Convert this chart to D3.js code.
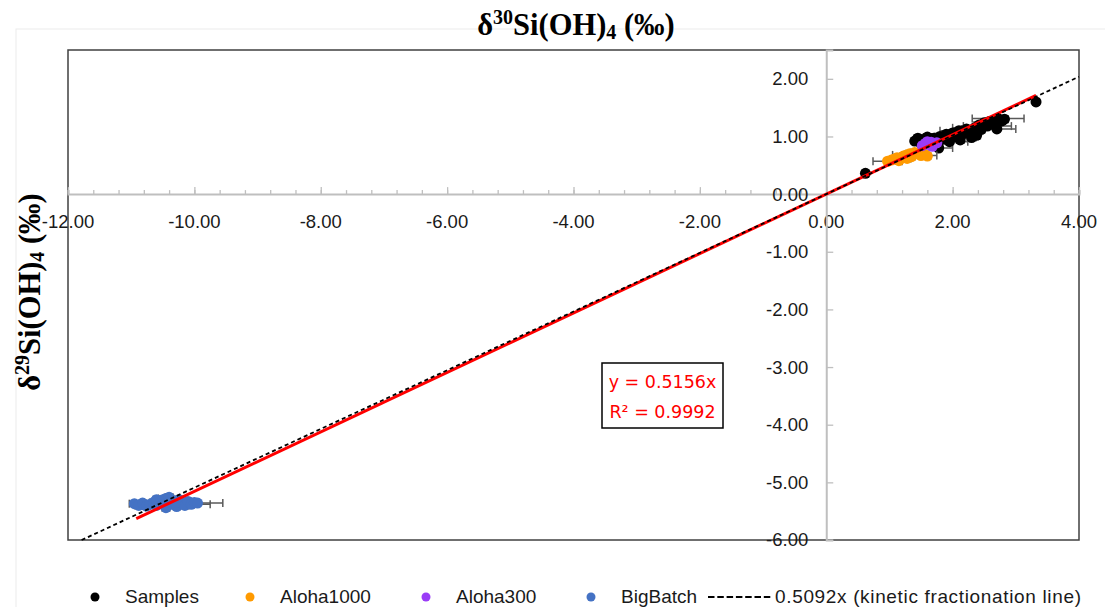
<!DOCTYPE html>
<html><head><meta charset="utf-8">
<script src="https://cdn.jsdelivr.net/npm/d3@7"></script>
<style>body{margin:0;background:#fff}svg{display:block}</style>
</head><body>
<svg id="c" width="1105" height="607"></svg>
<script>
// ---- data ----
const xTicks = [-12, -10, -8, -6, -4, -2, 0, 2, 4];
const yTicks = [2, 1, 0, -1, -2, -3, -4, -5, -6];

const samplesX = [1.40,1.45,1.50,1.55,1.60,1.65,1.70,1.72,1.78,1.80,1.85,1.90,1.95,2.00,2.05,2.10,2.12,2.18,2.22,2.28,2.30,2.35,2.38,2.42,2.45,2.50,2.55,2.58,2.62,2.66,2.70,2.72,2.78,2.82,0.62,3.32];
const samplesY = [0.92,0.97,0.88,0.95,0.99,0.93,0.97,0.86,0.80,1.00,0.95,1.04,0.91,1.06,1.00,1.10,0.94,1.05,1.13,1.08,0.98,1.15,1.02,1.20,1.12,1.24,1.18,1.26,1.22,1.28,1.13,1.31,1.27,1.30,0.36,1.60];
const samplesErr = [0.05,0.06,0.05,0.08,0.06,0.05,0.07,0.05,0.22,0.08,0.06,0.08,0.29,0.06,0.05,0.30,0.06,0.05,0.08,0.06,0.07,0.35,0.06,0.08,0.06,0.05,0.38,0.06,0.05,0.06,0.30,0.41,0.05,0.06,0.05,0.05];

const aloha1000X = [0.97,1.03,1.08,1.12,1.18,1.22,1.27,1.32,1.35,1.40,1.45,1.50,1.55,1.60,1.15,1.28];
const aloha1000Y = [0.57,0.59,0.61,0.63,0.62,0.66,0.68,0.70,0.65,0.72,0.70,0.67,0.69,0.66,0.58,0.62];
const aloha1000Err = [0.23,0.05,0.06,0.05,0.06,0.05,0.22,0.06,0.05,0.06,0.05,0.25,0.06,0.05,0.05,0.06];

const aloha300X = [1.52,1.57,1.62,1.66,1.70,1.75,1.60,1.68];
const aloha300Y = [0.84,0.88,0.86,0.90,0.87,0.89,0.91,0.83];
const aloha300Err = [0.05,0.06,0.05,0.06,0.05,0.06,0.05,0.05];

const bigBatchX = [-10.95,-10.88,-10.82,-10.76,-10.70,-10.65,-10.60,-10.55,-10.50,-10.45,-10.40,-10.36,-10.32,-10.28,-10.24,-10.20,-10.15,-10.10,-10.05,-10.00,-9.95,-10.45,-10.60,-10.30];
const bigBatchY = [-5.37,-5.40,-5.36,-5.41,-5.38,-5.35,-5.40,-5.33,-5.30,-5.28,-5.26,-5.38,-5.32,-5.42,-5.30,-5.36,-5.40,-5.33,-5.38,-5.35,-5.36,-5.44,-5.30,-5.35];
const bigBatchErr = [0.08,0.06,0.05,0.06,0.05,0.06,0.05,0.06,0.05,0.12,0.06,0.05,0.06,0.05,0.06,0.05,0.06,0.05,0.30,0.05,0.40,0.06,0.05,0.06];

const regSlope = 0.5156, regX = [-10.92, 3.32];
const kinSlope = 0.5092, kinX = [-11.785, 4];

const seriesNames = ["Samples", "Aloha1000", "Aloha300", "BigBatch"];
const seriesColors = ["#000000", "#ff9a00", "#9a3cf7", "#4472c4"];
const kinLabel = "0.5092x (kinetic fractionation line)";
const eqText = ["y = 0.5156x", "R\u00b2 = 0.9992"];

// ---- drawing ----
const svg = d3.select("#c");
const x = d3.scaleLinear().domain([-12, 4]).range([68, 1079]);
const y = d3.scaleLinear().domain([-6, 2.5]).range([540, 50]);
const fmt = d => d3.format(".2f")(d).replace("\u2212", "-");

// outer chart frame
svg.append("rect").attr("x", 16).attr("y", 29).attr("width", 1100).attr("height", 600)
  .attr("fill", "none").attr("stroke", "#ececec").attr("stroke-width", 1);

// plot border
svg.append("rect").attr("x", x(-12)).attr("y", y(2.5)).attr("width", x(4) - x(-12)).attr("height", y(-6) - y(2.5))
  .attr("fill", "none").attr("stroke", "#404040").attr("stroke-width", 1.5);

// x axis (at y=0), ticks going up
const xAxis = d3.axisTop(x).tickValues(d3.range(-12, 4.001, 0.4)).tickSize(4).tickFormat("");
const gx = svg.append("g").attr("transform", `translate(0,${y(0)})`).call(xAxis);
gx.selectAll("line").attr("stroke", "#bfbfbf").attr("stroke-width", 1.3);
gx.select(".domain").attr("stroke", "#bfbfbf").attr("stroke-width", 2);
const xMajor = d3.axisTop(x).tickValues(xTicks).tickSize(7).tickFormat("");
const gx2 = svg.append("g").attr("transform", `translate(0,${y(0)})`).call(xMajor);
gx2.select(".domain").remove();
gx2.selectAll("line").attr("stroke", "#bfbfbf").attr("stroke-width", 1.3);
svg.append("g").selectAll("text").data(xTicks).join("text")
  .attr("x", d => x(d)).attr("y", y(0) + 34).attr("text-anchor", "middle")
  .attr("font-family", "Liberation Sans, Arial, sans-serif").attr("font-size", 18.5).attr("fill", "#1a1a1a")
  .text(d => fmt(d));

// y axis (at x=0), ticks going right
const yAxis = d3.axisRight(y).tickValues(yTicks).tickSize(7).tickFormat("");
const gy = svg.append("g").attr("transform", `translate(${x(0)},0)`).call(yAxis);
gy.selectAll("line").attr("stroke", "#bfbfbf").attr("stroke-width", 1.3);
gy.select(".domain").attr("stroke", "#bfbfbf").attr("stroke-width", 2);
svg.append("g").selectAll("text").data(yTicks).join("text")
  .attr("x", x(0) - 18).attr("y", d => y(d)).attr("dy", "0.35em").attr("text-anchor", "end")
  .attr("font-family", "Liberation Sans, Arial, sans-serif").attr("font-size", 18.5).attr("fill", "#1a1a1a")
  .text(d => fmt(d));

// series
const series = [
  {xs: samplesX, ys: samplesY, es: samplesErr},
  {xs: aloha1000X, ys: aloha1000Y, es: aloha1000Err},
  {xs: aloha300X, ys: aloha300Y, es: aloha300Err},
  {xs: bigBatchX, ys: bigBatchY, es: bigBatchErr}
];
series.forEach((s, i) => {
  const pts = s.xs.map((v, j) => ({x: v, y: s.ys[j], e: s.es[j]}));
  const g = svg.append("g");
  const eb = g.append("g").attr("stroke", "#595959").attr("stroke-width", 1.5);
  pts.forEach(p => {
    eb.append("line").attr("x1", x(p.x - p.e)).attr("x2", x(p.x + p.e)).attr("y1", y(p.y)).attr("y2", y(p.y));
    eb.append("line").attr("x1", x(p.x - p.e)).attr("x2", x(p.x - p.e)).attr("y1", y(p.y) - 4).attr("y2", y(p.y) + 4);
    eb.append("line").attr("x1", x(p.x + p.e)).attr("x2", x(p.x + p.e)).attr("y1", y(p.y) - 4).attr("y2", y(p.y) + 4);
  });
  g.selectAll("circle").data(pts).join("circle")
    .attr("cx", d => x(d.x)).attr("cy", d => y(d.y)).attr("r", 5.5).attr("fill", seriesColors[i]);
});

// regression line (red)
svg.append("line").attr("x1", x(regX[0])).attr("y1", y(regX[0] * regSlope))
  .attr("x2", x(regX[1])).attr("y2", y(regX[1] * regSlope))
  .attr("stroke", "#ff0000").attr("stroke-width", 3);
// kinetic fractionation line (dashed)
svg.append("line").attr("x1", x(kinX[0])).attr("y1", y(kinX[0] * kinSlope))
  .attr("x2", x(kinX[1])).attr("y2", y(kinX[1] * kinSlope))
  .attr("stroke", "#000").attr("stroke-width", 1.8).attr("stroke-dasharray", "4,3");

// equation box
svg.append("rect").attr("x", 602).attr("y", 363).attr("width", 121).attr("height", 65)
  .attr("fill", "#fff").attr("stroke", "#000").attr("stroke-width", 1.5);
svg.append("g").selectAll("text").data(eqText).join("text")
  .attr("x", 662.5).attr("y", (d, i) => 388 + i * 30).attr("text-anchor", "middle")
  .attr("font-family", "DejaVu Sans, sans-serif").attr("font-size", 17.5).attr("fill", "#ff0000")
  .text(d => d);

// titles
function isoLabel(sel, mass) {
  sel.append("tspan").text("\u03b4");
  sel.append("tspan").attr("font-size", 20).attr("dy", -11).text(mass);
  sel.append("tspan").attr("dy", 11).text("Si(OH)");
  sel.append("tspan").attr("font-size", 20).attr("dy", 4).text("4");
  sel.append("tspan").attr("dy", -4).text(" (\u2030)");
}
const t = svg.append("text").attr("x", 576).attr("y", 35).attr("text-anchor", "middle")
  .attr("font-family", "Liberation Serif, Times New Roman, serif").attr("font-weight", "bold").attr("font-size", 30.5);
isoLabel(t, "30");
const yl = svg.append("text").attr("transform", "translate(40,292) rotate(-90)").attr("text-anchor", "middle")
  .attr("font-family", "Liberation Serif, Times New Roman, serif").attr("font-weight", "bold").attr("font-size", 30.5);
isoLabel(yl, "29");

// legend
const legX = [95, 250, 426, 591];
const legend = svg.append("g").attr("font-family", "Liberation Sans, Arial, sans-serif").attr("font-size", 19).attr("fill", "#1a1a1a");
seriesNames.forEach((n, i) => {
  legend.append("circle").attr("cx", legX[i]).attr("cy", 597).attr("r", 4.5).attr("fill", seriesColors[i]);
  legend.append("text").attr("x", legX[i] + 30).attr("y", 603).text(n);
});
legend.append("line").attr("x1", 708).attr("x2", 773).attr("y1", 597).attr("y2", 597)
  .attr("stroke", "#000").attr("stroke-width", 2).attr("stroke-dasharray", "6.5,2.8");
legend.append("text").attr("x", 775).attr("y", 603).attr("textLength", 306).attr("lengthAdjust", "spacing").text(kinLabel);
</script>
</body></html>
